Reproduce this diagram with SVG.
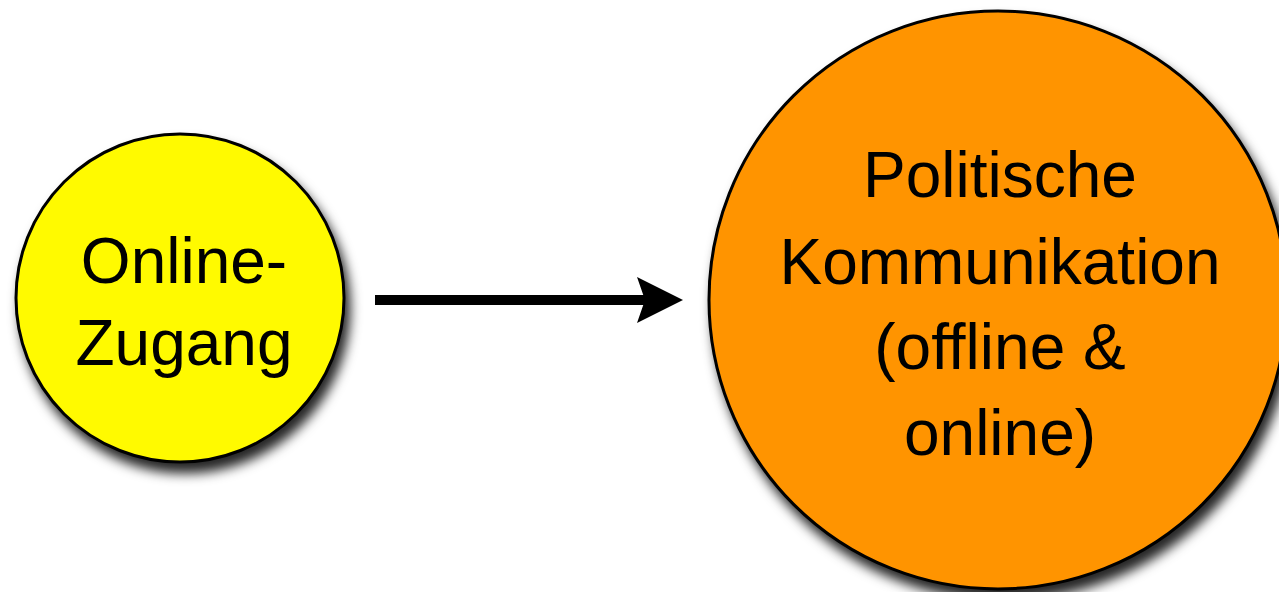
<svg xmlns="http://www.w3.org/2000/svg" width="1279" height="592" viewBox="0 0 1279 592">
  <style>
    .node { stroke: #000; stroke-width: 3; filter: url(#shadow); }
    .label { font-family: "Liberation Sans", Arial, sans-serif; font-size: 64px; fill: #000; text-anchor: middle; }
  </style>
  <defs>
    <filter id="shadow" x="-20%" y="-20%" width="140%" height="140%">
      <feDropShadow dx="5" dy="10" stdDeviation="6" flood-color="#000" flood-opacity="0.85"/>
    </filter>
    <marker id="arrowhead" markerUnits="userSpaceOnUse" markerWidth="50" markerHeight="50" refX="12" refY="23" orient="auto">
      <path d="M0,0 L46,23 L0,46 L8,23 Z" fill="#000"/>
    </marker>
  </defs>
  <rect width="1279" height="592" fill="#fff"/>
  <g id="connectors">
    <line x1="375" y1="300" x2="649" y2="300" stroke="#000" stroke-width="10" marker-end="url(#arrowhead)"/>
  </g>
  <g id="node-online-zugang">
    <circle class="node" cx="180" cy="298" r="164" fill="#FFFA00"/>
    <text class="label" x="184" y="283">Online-</text>
    <text class="label" x="184" y="365">Zugang</text>
  </g>
  <g id="node-politische-kommunikation">
    <circle class="node" cx="998" cy="300" r="289" fill="#FF9400"/>
    <text class="label" x="1000" y="197">Politische</text>
    <text class="label" x="1000" y="284">Kommunikation</text>
    <text class="label" x="1000" y="369">(offline &amp;</text>
    <text class="label" x="1000" y="455">online)</text>
  </g>
</svg>
